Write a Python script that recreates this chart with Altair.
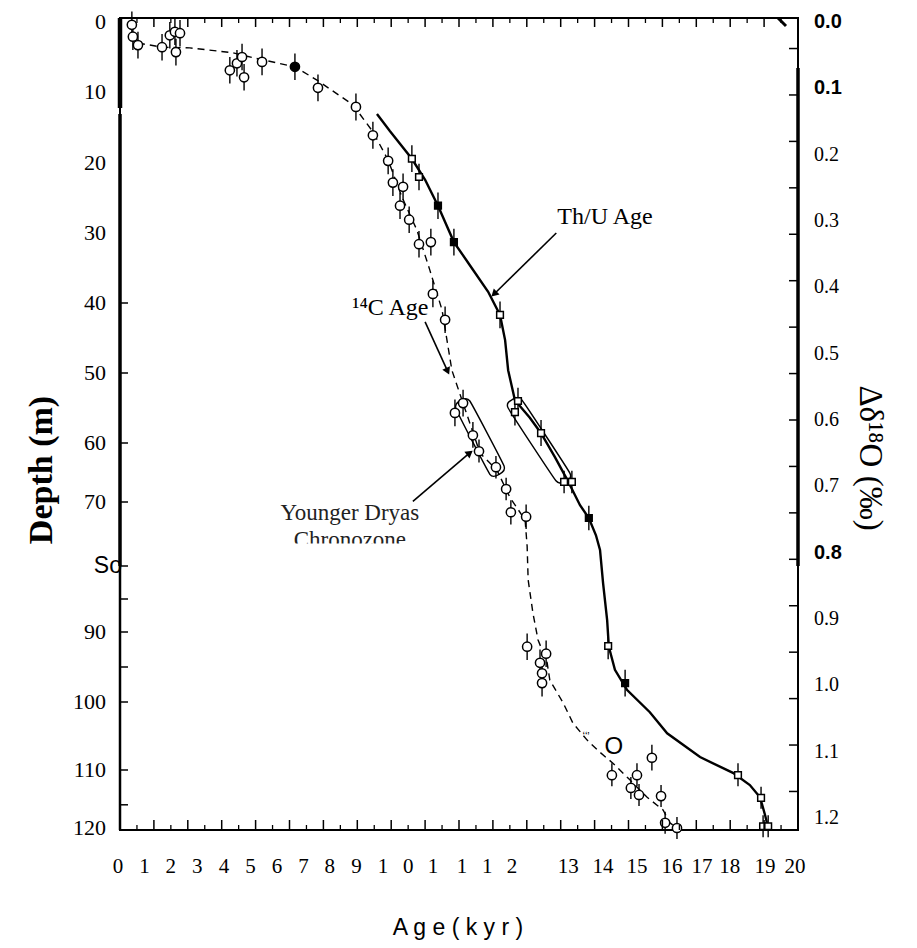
import altair as alt
import pandas as pd

# ---------------- data ----------------
# 14C ages (kyr) and depths (m) of the dated samples
c14_age = [0.35, 0.38, 0.53, 1.24, 1.47, 1.62, 1.77, 1.65, 3.24, 3.45, 3.60, 3.66,
           4.19, 5.16, 5.84, 6.96, 7.46, 7.91, 8.05, 8.35, 8.26, 8.53, 8.82, 9.17,
           9.23, 9.59, 10.12, 9.88, 10.41, 10.59, 11.09, 11.39, 11.53, 11.98, 12.01,
           12.57, 12.39, 12.45, 12.45, 14.51, 15.25, 15.07, 15.31, 15.69, 15.96, 16.08, 16.43]
c14_depth = [0.4, 2.1, 3.3, 3.6, 1.9, 1.4, 1.6, 4.3, 6.9, 5.9, 5.0, 7.9,
             5.7, 6.4, 9.4, 12.1, 16.1, 19.7, 22.8, 23.4, 26.1, 28.1, 31.6, 31.3,
             38.7, 42.4, 54.3, 55.7, 58.9, 61.4, 64.1, 67.8, 71.6, 72.3, 92.1,
             93.1, 94.4, 95.9, 97.3, 110.9, 110.9, 113.1, 114.3, 108.2, 114.5, 119.1, 120.0]
c14_filled = [0] * 13 + [1] + [0] * 33

# Th/U ages (kyr) and depths (m)
thu_age = [8.61, 8.82, 9.38, 9.85, 11.21, 11.74, 11.65, 12.42, 13.10, 13.33, 13.83,
           14.40, 14.90, 18.23, 18.91, 18.97, 19.12]
thu_depth = [19.4, 22.0, 26.1, 31.3, 41.7, 54.0, 55.6, 58.6, 66.6, 66.6, 72.5,
             92.0, 97.3, 110.9, 114.8, 119.7, 119.7]
thu_filled = [0, 0, 1, 1, 0, 0, 0, 0, 0, 0, 1, 0, 1, 0, 0, 0, 0]

depth_err = 1.9  # half length of the error bars (m)

# dashed 14C age curve
c14_curve_age = [0.53, 1.24, 2.06, 3.33, 3.92, 5.16, 5.81, 6.87, 7.46, 7.91, 8.32, 8.76,
                 9.14, 9.50, 9.79, 10.09, 10.62, 11.12, 11.50, 11.95, 12.01, 12.04, 12.18,
                 12.33, 12.60, 12.68, 13.07, 13.36, 13.78, 14.16, 14.54, 15.04, 15.55,
                 16.02, 16.22, 16.43]
c14_curve_depth = [3.0, 3.6, 3.7, 4.4, 5.1, 6.4, 8.3, 11.8, 15.6, 19.6, 24.9, 29.6,
                   35.3, 41.0, 49.6, 53.9, 61.7, 64.6, 69.2, 72.8, 76.9, 82.1, 87.1,
                   91.1, 94.4, 96.9, 100.1, 103.1, 105.6, 107.4, 109.0, 111.7, 114.7,
                   116.9, 119.1, 120.0]

# solid Th/U age curve
thu_curve_age = [7.58, 7.96, 8.61, 9.00, 9.38, 9.85, 10.32, 10.86, 11.21, 11.36, 11.45,
                 11.65, 12.09, 12.42, 12.83, 13.19, 13.57, 13.83, 14.04, 14.16, 14.25,
                 14.37, 14.42, 14.60, 14.96, 15.63, 16.14, 17.11, 18.08, 18.58, 18.88,
                 19.03, 19.12]
thu_curve_depth = [13.1, 15.5, 19.4, 22.4, 26.1, 31.3, 34.6, 38.4, 41.7, 45.3, 49.6,
                   53.9, 56.4, 58.6, 62.4, 66.2, 70.5, 72.5, 75.2, 77.5, 82.6, 88.2,
                   92.1, 95.4, 98.3, 101.5, 104.6, 108.1, 110.5, 112.6, 114.7, 117.8, 120.0]

# Younger Dryas envelopes (rounded capsules)
c14_box_age = [10.32, 11.33, 11.19, 10.91, 9.91, 10.05]
c14_box_depth = [54.0, 63.9, 65.3, 65.3, 55.1, 53.9]
thu_box_age = [11.86, 13.27, 13.15, 12.86, 11.45, 11.57]
thu_box_depth = [53.9, 65.1, 66.5, 66.4, 55.0, 53.8]

# axis labels
left_labels = ["0", "10", "20", "30", "40", "50", "60", "70", "So", "90", "100", "110", "120"]
left_label_depth = [0, 10, 20, 30, 40, 50, 60, 70, 80, 90, 100, 110, 120]
left_tick_depth = [40, 50, 60, 70, 80, 85, 90, 95, 100, 110, 116]

bottom_labels = ["0", "1", "2", "3", "4", "5", "6", "7", "8", "9", "1", "0", "1", "1", "1", "2",
                 "13", "14", "15", "16", "17", "18", "19", "20"]
bottom_label_age = [-0.06, 0.72, 1.50, 2.28, 3.07, 3.85, 4.63, 5.41, 6.19, 6.98, 7.76, 8.50,
                    9.23, 10.09, 10.83, 11.56, 13.22, 14.25, 15.25, 16.28, 17.17, 17.99, 19.03, 19.91]
major_ticks = list(range(1, 20))
minor_ticks = [i + 0.5 for i in range(20)]

right_labels = ["0.0", "0.1", "0.2", "0.3", "0.4", "0.5", "0.6", "0.7", "0.8", "0.9", "1.0", "1.1", "1.2"]
right_label_value = [0.0, 0.1, 0.2, 0.3, 0.4, 0.5, 0.6, 0.7, 0.8, 0.9, 1.0, 1.1, 1.2]
right_sans = ["0.0", "0.1", "0.8"]
right_tick_value = [0.04, 0.11, 0.18, 0.25, 0.32, 0.39, 0.46, 0.53, 0.6, 0.67, 0.74,
                    0.81, 0.88, 0.95, 1.02, 1.09, 1.16]

# annotations
notes = ["Th/U Age", "\u00b9\u2074C Age", "Younger Dryas", "Chronozone"]
note_age = [12.90, 6.85, 6.78, 6.78]
note_depth = [27.7, 40.7, 71.7, 75.9]
note_align = ["left", "left", "center", "center"]
note_size = [24, 24, 23, 23]
clip_age = [4.6, 9.0]          # the scan cuts the word "Chronozone" in half
clip_depth = [76.5, 79.0]

arrow_from_age = [12.87, 9.00, 8.64]
arrow_from_depth = [30.0, 42.7, 69.9]
arrow_to_age = [11.06, 9.65, 10.29]
arrow_to_depth = [38.6, 49.6, 61.8]
arrow_angle = [226, 155, 52]

# ---------------- layout ----------------
W, H = 678, 812
depth_dom = [0, 10, 20, 30, 40, 50, 60, 70, 80, 90, 100, 110, 120]
depth_rng = [4, 74, 145, 215, 285, 355, 425, 484, 548, 614, 684, 752, 810]
SERIF = "Liberation Serif"
SANS = "Liberation Sans"

xs = alt.Scale(domain=[0, 20], nice=False, zero=False)
ys = alt.Scale(domain=depth_dom, range=depth_rng, nice=False, zero=False)
rs = alt.Scale(domain=[0, 1.2], range=[4, 800], nice=False, zero=False)

X = lambda f: alt.X(f, type="quantitative", scale=xs, axis=None)
Y = lambda f: alt.Y(f, type="quantitative", scale=ys, axis=None)

c14 = pd.DataFrame({"age": c14_age, "depth": c14_depth, "filled": c14_filled})
thu = pd.DataFrame({"age": thu_age, "depth": thu_depth, "filled": thu_filled})
c14c = pd.DataFrame({"age": c14_curve_age, "depth": c14_curve_depth, "i": range(len(c14_curve_age))})
thuc = pd.DataFrame({"age": thu_curve_age, "depth": thu_curve_depth, "i": range(len(thu_curve_age))})
boxes = pd.DataFrame({
    "age": c14_box_age + thu_box_age,
    "depth": c14_box_depth + thu_box_depth,
    "box": ["c14"] * len(c14_box_age) + ["thu"] * len(thu_box_age),
    "i": list(range(len(c14_box_age))) + list(range(len(thu_box_age))),
})
pts_all = pd.concat([c14, thu])

fill_scale = alt.Scale(domain=[0, 1], range=["white", "black"])

c14_line = alt.Chart(c14c).mark_line(color="black", strokeWidth=1.4, strokeDash=[7, 5]).encode(
    x=X("age"), y=Y("depth"), order="i:Q")
thu_line = alt.Chart(thuc).mark_line(color="black", strokeWidth=2.4).encode(
    x=X("age"), y=Y("depth"), order="i:Q")
box_line = alt.Chart(boxes).mark_line(color="black", strokeWidth=1.4,
                                      interpolate="cardinal-closed", tension=0.6).encode(
    x=X("age"), y=Y("depth"), detail="box:N", order="i:Q")
errs = alt.Chart(pts_all).transform_calculate(
    lo=f"datum.depth - {depth_err}", hi=f"datum.depth + {depth_err}"
).mark_rule(color="black", strokeWidth=1.4).encode(x=X("age"), y=Y("lo"), y2="hi:Q")
c14_pts = alt.Chart(c14).mark_point(shape="circle", size=85, filled=True, stroke="black",
                                    strokeWidth=1.5, opacity=1).encode(
    x=X("age"), y=Y("depth"), fill=alt.Fill("filled:O", scale=fill_scale, legend=None))
thu_pts = alt.Chart(thu).mark_point(shape="square", size=45, filled=True, stroke="black",
                                    strokeWidth=1.5, opacity=1).encode(
    x=X("age"), y=Y("depth"), fill=alt.Fill("filled:O", scale=fill_scale, legend=None))

# annotations
nd = pd.DataFrame({"t": notes, "age": note_age, "depth": note_depth, "al": note_align, "fs": note_size})
note_l = alt.Chart(nd).transform_filter("datum.al == 'left'").mark_text(
    font=SERIF, align="left", baseline="middle", color="black").encode(
    x=X("age"), y=Y("depth"), text="t:N", size=alt.Size("fs:Q", scale=None))
note_c = alt.Chart(nd).transform_filter("datum.al == 'center'").mark_text(
    font=SERIF, align="center", baseline="middle", color="#222").encode(
    x=X("age"), y=Y("depth"), text="t:N", size=alt.Size("fs:Q", scale=None))
clip = alt.Chart(pd.DataFrame({"a0": [clip_age[0]], "a1": [clip_age[1]],
                               "d0": [clip_depth[0]], "d1": [clip_depth[1]]})).mark_rect(
    color="white", opacity=1).encode(x=X("a0"), x2="a1:Q", y=Y("d0"), y2="d1:Q")
ad = pd.DataFrame({"a0": arrow_from_age, "d0": arrow_from_depth, "a1": arrow_to_age,
                   "d1": arrow_to_depth, "ang": arrow_angle})
arr_line = alt.Chart(ad).mark_rule(color="black", strokeWidth=1.6).encode(
    x=X("a0"), y=Y("d0"), x2="a1:Q", y2="d1:Q")
arr_head = alt.Chart(ad).mark_point(shape="triangle", size=70, filled=True, color="black", opacity=1).encode(
    x=X("a1"), y=Y("d1"), angle=alt.Angle("ang:Q", scale=None))

# artefacts of the scanned figure
art = pd.DataFrame({"t": ["O", "\u02bb\u02bb\u02bc"], "age": [14.57, 13.75], "depth": [106.6, 105.2],
                    "fs": [24, 11]})
art_txt = alt.Chart(art).mark_text(font=SANS, align="center", baseline="middle", color="black").encode(
    x=X("age"), y=Y("depth"), text="t:N", size=alt.Size("fs:Q", scale=None))

# ticks and axis lines
mt = pd.DataFrame({"v": major_ticks})
nt = pd.DataFrame({"v": minor_ticks})
top_major = alt.Chart(mt).mark_rule(color="black", strokeWidth=1.5).encode(
    x=X("v"), y=alt.value(0), y2=alt.value(9))
top_minor = alt.Chart(nt).mark_rule(color="black", strokeWidth=1.3).encode(
    x=X("v"), y=alt.value(0), y2=alt.value(5))
bot_major = alt.Chart(mt).mark_rule(color="black", strokeWidth=1.5).encode(
    x=X("v"), y=alt.value(H), y2=alt.value(H - 10))
bot_minor = alt.Chart(nt).mark_rule(color="black", strokeWidth=1.3).encode(
    x=X("v"), y=alt.value(H), y2=alt.value(H - 5))
lt = pd.DataFrame({"d": left_tick_depth})
left_ticks = alt.Chart(lt).mark_rule(color="black", strokeWidth=1.5).encode(
    y=Y("d"), x=alt.value(0), x2=alt.value(8))
rt = pd.DataFrame({"r": right_tick_value})
right_ticks = alt.Chart(rt).mark_rule(color="black", strokeWidth=1.5).encode(
    y=alt.Y("r:Q", scale=rs, axis=None), x=alt.value(W), x2=alt.value(W - 9))

one = pd.DataFrame({"a": [0]})
left_bar = alt.Chart(one).mark_rule(color="black", strokeWidth=4.5).encode(
    x=alt.value(0), y=alt.value(0), y2=alt.value(90))
left_bar2 = alt.Chart(one).mark_rule(color="black", strokeWidth=3.5).encode(
    x=alt.value(0), y=alt.value(96), y2=alt.value(548))
left_bar3 = alt.Chart(one).mark_rule(color="black", strokeWidth=2.5).encode(
    x=alt.value(0), y=alt.value(548), y2=alt.value(H))
right_bar = alt.Chart(one).mark_rule(color="black", strokeWidth=3.5).encode(
    x=alt.value(W), y=alt.value(50), y2=alt.value(548))
slash = alt.Chart(one).mark_rule(color="black", strokeWidth=3).encode(
    x=alt.value(W - 20), x2=alt.value(W - 12), y=alt.value(0), y2=alt.value(8))

# axis labels as text
ll = pd.DataFrame({"t": left_labels, "d": left_label_depth})
left_serif = alt.Chart(ll).transform_filter("datum.t != 'So'").mark_text(
    font=SERIF, fontSize=22, align="right", baseline="middle", color="black", dx=-14).encode(
    y=Y("d"), x=alt.value(0), text="t:N")
left_sans = alt.Chart(ll).transform_filter("datum.t == 'So'").mark_text(
    font=SANS, fontSize=23, align="right", baseline="middle", color="black", dx=2).encode(
    y=Y("d"), x=alt.value(0), text="t:N")
bl = pd.DataFrame({"t": bottom_labels, "a": bottom_label_age})
bottom_txt = alt.Chart(bl).mark_text(font=SERIF, fontSize=21, align="center", baseline="middle",
                                     color="black").encode(x=X("a"), y=alt.value(H + 37), text="t:N")
rl = pd.DataFrame({"t": right_labels, "r": right_label_value})
rl["sans"] = rl["t"].isin(right_sans)
right_serif = alt.Chart(rl).transform_filter("!datum.sans").mark_text(
    font=SERIF, fontSize=20, align="left", baseline="middle", color="black", dx=16).encode(
    y=alt.Y("r:Q", scale=rs, axis=None), x=alt.value(W), text="t:N")
right_sans_t = alt.Chart(rl).transform_filter("datum.sans").mark_text(
    font=SANS, fontSize=20, fontWeight="bold", align="left", baseline="middle", color="black",
    dx=16).encode(y=alt.Y("r:Q", scale=rs, axis=None), x=alt.value(W), text="t:N")

x_title = alt.Chart(one).mark_text(font=SANS, fontSize=23, align="center", baseline="middle",
                                   color="black", text="A g e  ( k y r )").encode(
    x=alt.value(338), y=alt.value(H + 98))
y_title = alt.Chart(one).mark_text(font=SERIF, fontSize=34, fontWeight="bold", align="center",
                                   baseline="middle", color="black", angle=270,
                                   text="Depth (m)").encode(x=alt.value(-78), y=alt.value(452))
r_title = alt.Chart(one).mark_text(font=SERIF, fontSize=33, align="center", baseline="middle",
                                   color="black", angle=90,
                                   text="\u0394\u03b4\u00b9\u2078O (\u2030)").encode(
    x=alt.value(W + 72), y=alt.value(440))

chart = alt.layer(
    box_line, c14_line, thu_line, errs, c14_pts, thu_pts,
    arr_line, arr_head, note_l, note_c, clip, art_txt,
    top_major, top_minor, bot_major, bot_minor, left_ticks, right_ticks,
    left_bar, left_bar2, left_bar3, right_bar, slash,
    left_serif, left_sans, bottom_txt, right_serif, right_sans_t,
    x_title, y_title, r_title,
).resolve_scale(y="independent").properties(
    width=W, height=H,
    autosize=alt.AutoSizeParams(type="none"),
    padding={"left": 112, "top": 10, "right": 111, "bottom": 110},
).configure_view(stroke="black", strokeWidth=2)

chart.save("out.html", embed_options={"renderer": "svg", "actions": False})
